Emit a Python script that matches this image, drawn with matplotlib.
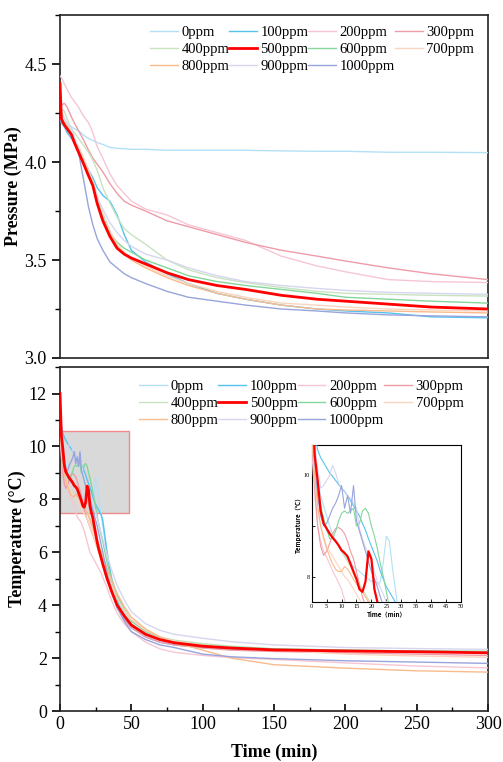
import numpy as np
import matplotlib
matplotlib.use("Agg")
import matplotlib.pyplot as plt
from matplotlib.patches import Rectangle
from matplotlib.ticker import MultipleLocator

plt.rcParams['font.family'] = ['Liberation Serif', 'DejaVu Serif']

labels = ['0ppm', '100ppm', '200ppm', '300ppm', '400ppm', '500ppm',
          '600ppm', '700ppm', '800ppm', '900ppm', '1000ppm']
colors = ['#b3e0f7', '#55c3ee', '#f6c6d4', '#ef9ca8', '#c8e3bf', '#ff0000',
          '#84d69a', '#f9d5bf', '#f9bb8c', '#d6d6f0', '#98a4dc']

# pressure (MPa) vs time (min)
p_time = [0, 1, 3, 5, 8, 10, 13, 16, 20, 23, 26, 30, 35, 40, 45, 50, 60, 75,
          90, 110, 130, 155, 180, 200, 230, 260, 300]
p_0 = [4.22, 4.21, 4.20, 4.19, 4.18, 4.17, 4.16, 4.14, 4.12, 4.11, 4.10, 4.09, 4.075, 4.07,
       4.068, 4.065, 4.065, 4.06, 4.06, 4.06, 4.06, 4.057, 4.055, 4.055, 4.05, 4.05, 4.048]
p_100 = [4.25, 4.20, 4.18, 4.15, 4.12, 4.10, 4.06, 4.02, 3.96, 3.92, 3.87, 3.83, 3.80, 3.73,
         3.63, 3.55, 3.49, 3.43, 3.38, 3.33, 3.30, 3.27, 3.25, 3.24, 3.23, 3.21, 3.205]
p_200 = [4.44, 4.43, 4.40, 4.37, 4.33, 4.31, 4.28, 4.24, 4.20, 4.15, 4.08, 4.02, 3.94, 3.88,
         3.84, 3.80, 3.76, 3.73, 3.68, 3.64, 3.60, 3.52, 3.47, 3.44, 3.40, 3.39, 3.385]
p_300 = [4.26, 4.29, 4.30, 4.28, 4.23, 4.20, 4.16, 4.12, 4.06, 4.02, 3.99, 3.95, 3.89, 3.84,
         3.80, 3.78, 3.75, 3.70, 3.67, 3.63, 3.59, 3.55, 3.52, 3.495, 3.46, 3.43, 3.40]
p_400 = [4.28, 4.27, 4.26, 4.22, 4.17, 4.15, 4.12, 4.09, 4.05, 4.01, 3.96, 3.87, 3.79, 3.72,
         3.66, 3.63, 3.58, 3.50, 3.45, 3.41, 3.385, 3.36, 3.34, 3.33, 3.325, 3.32, 3.316]
p_500 = [4.40, 4.22, 4.19, 4.17, 4.14, 4.10, 4.05, 4.00, 3.93, 3.88, 3.79, 3.70, 3.62, 3.56,
         3.53, 3.51, 3.48, 3.435, 3.40, 3.37, 3.35, 3.32, 3.30, 3.29, 3.275, 3.26, 3.25]
p_600 = [4.27, 4.25, 4.22, 4.19, 4.15, 4.12, 4.07, 4.02, 3.95, 3.90, 3.82, 3.72, 3.64, 3.59,
         3.56, 3.54, 3.50, 3.46, 3.42, 3.39, 3.37, 3.35, 3.33, 3.31, 3.30, 3.29, 3.28]
p_700 = [4.30, 4.25, 4.22, 4.19, 4.15, 4.12, 4.08, 4.03, 3.96, 3.90, 3.83, 3.74, 3.65, 3.58,
         3.54, 3.51, 3.47, 3.42, 3.38, 3.34, 3.31, 3.28, 3.27, 3.26, 3.25, 3.245, 3.24]
p_800 = [4.25, 4.22, 4.20, 4.18, 4.14, 4.11, 4.06, 4.01, 3.94, 3.88, 3.80, 3.71, 3.63, 3.57,
         3.53, 3.50, 3.46, 3.41, 3.37, 3.33, 3.30, 3.27, 3.25, 3.245, 3.24, 3.235, 3.23]
p_900 = [4.26, 4.24, 4.22, 4.20, 4.17, 4.13, 4.06, 4.00, 3.94, 3.88, 3.82, 3.76, 3.69, 3.64,
         3.60, 3.57, 3.53, 3.50, 3.46, 3.42, 3.39, 3.37, 3.355, 3.345, 3.335, 3.33, 3.325]
p_1000 = [4.23, 4.20, 4.19, 4.17, 4.14, 4.11, 4.05, 3.93, 3.77, 3.68, 3.61, 3.55, 3.49, 3.46,
          3.43, 3.41, 3.38, 3.34, 3.31, 3.29, 3.27, 3.25, 3.24, 3.23, 3.22, 3.215, 3.21]

# temperature (°C) vs time (min)
t_time = list(range(0, 31)) + [33, 36, 40, 45, 50, 60, 70, 80, 100, 120, 150, 200, 250, 300]
t_0 = [11.0, 10.3, 9.9, 9.6, 9.4, 9.2, 9.0, 8.85, 8.7, 8.6, 8.5, 8.4, 8.35, 8.3, 8.2, 8.15,
       8.1, 8.05, 8.0, 7.95, 7.9, 7.95, 7.85, 7.9, 8.3, 8.8, 8.7, 8.2, 7.75, 7.35, 7.0,
       5.9, 5.1, 4.3, 3.7, 3.3, 2.9, 2.7, 2.58, 2.42, 2.35, 2.3, 2.27, 2.24, 2.2]
t_100 = [11.0, 10.8, 10.5, 10.35, 10.25, 10.15, 10.05, 9.98, 9.9, 9.82, 9.75, 9.68, 9.6, 9.5,
         9.4, 9.3, 9.2, 9.05, 8.92, 8.75, 8.6, 8.45, 8.3, 8.1, 7.95, 7.8, 7.7, 7.6, 7.5, 7.4,
         7.2, 6.0, 5.0, 4.2, 3.5, 3.15, 2.8, 2.6, 2.5, 2.4, 2.35, 2.3, 2.28, 2.25, 2.22]
t_200 = [10.5, 9.6, 9.0, 8.7, 8.5, 8.38, 8.25, 8.12, 8.0, 7.88, 7.75, 7.55, 7.35, 7.25, 7.2,
         7.1, 6.95, 6.8, 6.6, 6.4, 6.2, 6.0, 5.9, 5.8, 5.7, 5.6, 5.5, 5.4, 5.3, 5.2, 5.05,
         4.65, 4.2, 3.7, 3.3, 3.0, 2.6, 2.35, 2.22, 2.1, 2.02, 1.95, 1.82, 1.7, 1.63]
t_300 = [10.8, 9.8, 9.0, 8.6, 8.42, 8.5, 8.65, 8.85, 8.95, 8.97, 8.93, 8.85, 8.7, 8.5, 8.35,
         8.1, 7.85, 7.6, 7.42, 7.25, 7.1, 6.95, 6.8, 6.65, 6.5, 6.35, 6.2, 6.05, 5.9, 5.75, 5.6,
         5.0, 4.5, 3.95, 3.45, 3.15, 2.8, 2.6, 2.5, 2.38, 2.3, 2.25, 2.2, 2.15, 2.1]
t_400 = [11.0, 10.2, 9.6, 9.3, 9.1, 8.95, 8.9, 8.8, 8.7, 8.6, 8.5, 8.4, 8.3, 8.2, 8.05, 7.95,
         7.85, 7.75, 7.65, 7.55, 7.45, 7.3, 7.15, 7.0, 6.85, 6.7, 6.5, 6.3, 6.1, 5.95, 5.8,
         5.3, 4.85, 4.3, 3.8, 3.45, 3.05, 2.8, 2.68, 2.55, 2.45, 2.35, 2.3, 2.27, 2.25]
t_500 = [12.0, 10.4, 9.9, 9.3, 9.05, 8.95, 8.85, 8.77, 8.7, 8.62, 8.52, 8.47, 8.4, 8.25, 8.1,
         7.95, 7.75, 7.7, 7.9, 8.5, 8.35, 7.75, 7.5, 7.3, 7.0, 6.7, 6.4, 6.15, 5.95, 5.75, 5.55,
         5.0, 4.55, 4.0, 3.6, 3.25, 2.9, 2.7, 2.58, 2.45, 2.38, 2.31, 2.27, 2.24, 2.2]
t_600 = [11.3, 10.4, 9.8, 9.4, 9.15, 8.95, 8.75, 8.75, 8.9, 9.1, 9.25, 9.3, 9.25, 9.3, 9.35,
         9.0, 9.05, 9.3, 9.35, 9.25, 9.0, 8.8, 8.55, 8.25, 8.0, 7.7, 7.4, 7.1, 6.85, 6.6, 6.4,
         5.6, 5.0, 4.4, 3.85, 3.4, 3.0, 2.78, 2.65, 2.5, 2.42, 2.35, 2.3, 2.27, 2.25]
t_700 = [10.8, 9.9, 9.3, 9.0, 8.8, 8.6, 8.5, 8.4, 8.3, 8.2, 8.1, 8.0, 7.95, 7.85, 7.75, 7.65,
         7.55, 7.45, 7.35, 7.25, 7.1, 6.95, 6.8, 6.65, 6.5, 6.35, 6.2, 6.05, 5.9, 5.8, 5.65,
         5.2, 4.75, 4.25, 3.8, 3.45, 3.05, 2.8, 2.65, 2.5, 2.4, 2.3, 2.15, 2.08, 2.03]
t_800 = [10.8, 10.0, 9.4, 9.0, 8.75, 8.55, 8.4, 8.25, 8.15, 8.1, 8.1, 8.2, 8.15, 8.05, 7.95,
         7.85, 7.8, 7.7, 7.6, 7.5, 7.35, 7.2, 7.05, 6.9, 6.75, 6.6, 6.45, 6.3, 6.15, 6.0, 5.85,
         5.4, 4.95, 4.45, 3.95, 3.55, 3.1, 2.8, 2.6, 2.3, 2.0, 1.75, 1.62, 1.52, 1.47]
t_900 = [11.2, 10.6, 10.15, 9.75, 9.8, 9.9, 10.0, 10.2, 10.05, 9.85, 9.75, 9.7, 9.6, 9.55,
         9.45, 9.35, 8.95, 8.75, 8.58, 8.45, 8.3, 8.1, 7.9, 7.78, 7.65, 7.5, 7.3, 7.1, 6.9, 6.7,
         6.5, 5.9, 5.35, 4.75, 4.2, 3.75, 3.3, 3.05, 2.9, 2.75, 2.62, 2.5, 2.4, 2.36, 2.33]
t_1000 = [11.0, 10.3, 9.6, 9.2, 9.0, 9.05, 9.2, 9.35, 9.45, 9.6, 9.8, 9.35, 9.6, 9.25, 9.8,
          9.1, 8.9, 8.7, 8.5, 8.3, 8.1, 7.95, 7.8, 7.6, 7.4, 7.2, 7.0, 6.75, 6.5, 6.25, 6.0,
          5.2, 4.6, 3.9, 3.4, 3.0, 2.7, 2.5, 2.4, 2.15, 2.05, 1.98, 1.9, 1.85, 1.8]

pressure = [p_0, p_100, p_200, p_300, p_400, p_500, p_600, p_700, p_800, p_900, p_1000]
temperature = [t_0, t_100, t_200, t_300, t_400, t_500, t_600, t_700, t_800, t_900, t_1000]

# legend entries listed so that 4 columns read row by row
legend_order = [0, 4, 8, 1, 5, 9, 2, 6, 10, 3, 7]

fig = plt.figure(figsize=(5.03, 7.62), dpi=100)
ax1 = fig.add_axes([0.1193, 0.5302, 0.851, 0.450])
ax2 = fig.add_axes([0.1193, 0.0669, 0.851, 0.4514])

def lw_of(lab):
    return 2.0 if lab == '500ppm' else 1.0

def add_legend(ax, lines, anchor):
    h = [lines[i] for i in legend_order]
    ax.legend(h, [l.get_label() for l in h], ncol=4, loc='upper left',
              bbox_to_anchor=anchor, frameon=False, fontsize=10.5, handlelength=1.9,
              handletextpad=0.25, columnspacing=0.0, labelspacing=0.25,
              borderaxespad=0, borderpad=0)

# top: pressure
lines1 = []
for lab, col, y in zip(labels, colors, pressure):
    ln, = ax1.plot(p_time, y, color=col, lw=lw_of(lab), label=lab,
                   zorder=5 if lab == '500ppm' else 3)
    lines1.append(ln)
ax1.set_xlim(0, 300)
ax1.set_ylim(3.0, 4.75)
ax1.set_xticks([])
ax1.yaxis.set_major_locator(MultipleLocator(0.5))
ax1.yaxis.set_minor_locator(MultipleLocator(0.25))
ax1.yaxis.set_major_formatter(matplotlib.ticker.FormatStrFormatter('%.1f'))
ax1.tick_params(axis='y', which='major', direction='out', length=6, width=1.2, labelsize=13)
ax1.tick_params(axis='y', which='minor', direction='out', length=3.5, width=1.0)
ax1.set_ylabel('Pressure (MPa)', fontsize=13, fontweight='bold', labelpad=2)
add_legend(ax1, lines1, (0.21, 0.968))

# bottom: temperature
ax2.add_patch(Rectangle((0, 7.5), 48.5, 3.1, facecolor='#d9d9d9', edgecolor='#f08a8a',
                        lw=1.0, zorder=1))
lines2 = []
for lab, col, y in zip(labels, colors, temperature):
    ln, = ax2.plot(t_time, y, color=col, lw=lw_of(lab), label=lab,
                   zorder=5 if lab == '500ppm' else 3)
    lines2.append(ln)
ax2.set_xlim(0, 300)
ax2.set_ylim(0, 13)
ax2.xaxis.set_major_locator(MultipleLocator(50))
ax2.xaxis.set_minor_locator(MultipleLocator(25))
ax2.yaxis.set_major_locator(MultipleLocator(2))
ax2.yaxis.set_minor_locator(MultipleLocator(1))
ax2.tick_params(axis='x', which='major', direction='in', length=5, width=1.2, labelsize=13)
ax2.tick_params(axis='x', which='minor', direction='in', length=3, width=1.0)
ax2.tick_params(axis='y', which='major', direction='out', length=6, width=1.2, labelsize=13)
ax2.tick_params(axis='y', which='minor', direction='out', length=3.5, width=1.0)
ax2.set_xlabel('Time (min)', fontsize=13, fontweight='bold', labelpad=8)
ax2.set_ylabel('Temperature (°C)', fontsize=13, fontweight='bold', labelpad=2)
add_legend(ax2, lines2, (0.185, 0.962))

for ax in (ax1, ax2):
    for s in ax.spines.values():
        s.set_linewidth(1.2)
        s.set_color('#222222')

# inset: zoom on first 50 min
axin = fig.add_axes([0.6197, 0.21, 0.2968, 0.206])
for lab, col, y in zip(labels, colors, temperature):
    axin.plot(t_time, y, color=col, lw=1.6 if lab == '500ppm' else 0.8,
              zorder=5 if lab == '500ppm' else 3)
axin.set_xlim(0, 50)
axin.set_ylim(7.5, 10.6)
axin.xaxis.set_major_locator(MultipleLocator(5))
axin.set_yticks([8, 10])
axin.set_yticks([9], minor=True)
axin.tick_params(which='both', direction='in', length=2, width=0.6, labelsize=4.5, pad=1.5)
axin.set_xlabel('Time（min）', fontsize=4.5, fontweight='bold', labelpad=1,
                family=['Noto Sans CJK SC', 'DejaVu Sans'])
axin.set_ylabel('Temperature（℃）', fontsize=4.5, fontweight='bold', labelpad=1,
                family=['Noto Sans CJK SC', 'DejaVu Sans'])
for s in axin.spines.values():
    s.set_linewidth(0.8)

fig.savefig('out.png', dpi=100)
